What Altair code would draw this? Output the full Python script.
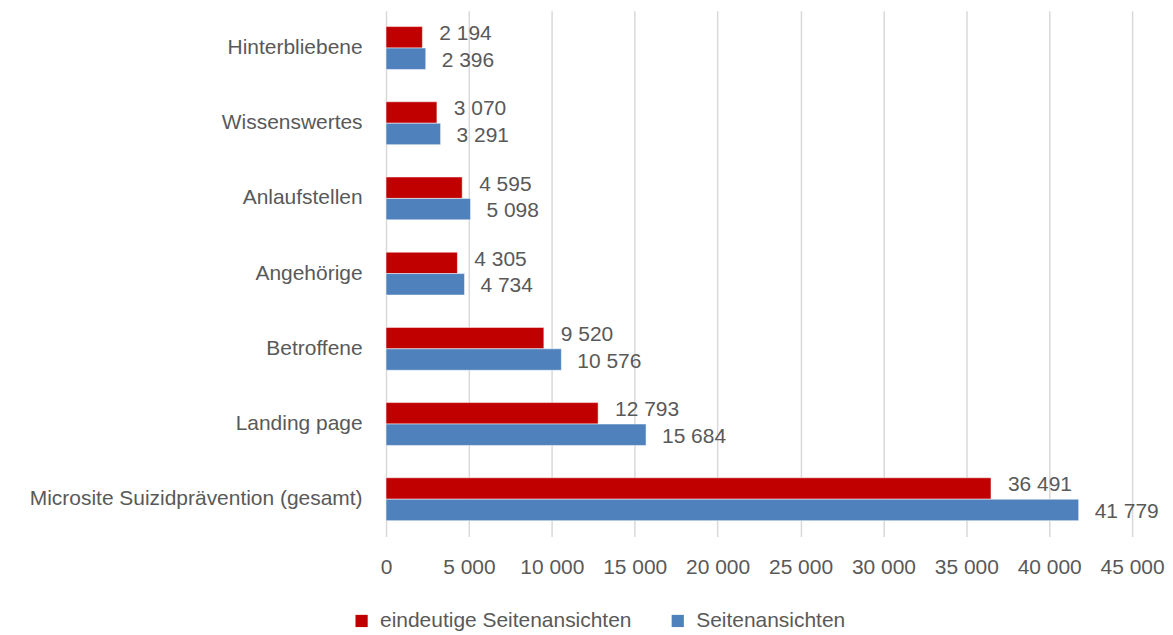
import altair as alt
import pandas as pd

categories = ["Hinterbliebene", "Wissenswertes", "Anlaufstellen", "Angehörige",
              "Betroffene", "Landing page", "Microsite Suizidprävention (gesamt)"]
eindeutige = [2194, 3070, 4595, 4305, 9520, 12793, 36491]
seiten = [2396, 3291, 5098, 4734, 10576, 15684, 41779]
series = ["eindeutige Seitenansichten", "Seitenansichten"]
colors = ["#C00000", "#4F81BD"]
x_ticks = list(range(0, 45001, 5000))

rows = []
for c, a, b in zip(categories, eindeutige, seiten):
    rows.append({"cat": c, "series": series[0], "value": a})
    rows.append({"cat": c, "series": series[1], "value": b})
df = pd.DataFrame(rows)

font = "Liberation Sans"
txt = "#595959"
fmt = "replace(format(datum.value, ','), ',', ' ')"

base = alt.Chart(df).transform_calculate(
    label="replace(format(datum.value, ','), ',', ' ')"
).encode(
    y=alt.Y("cat:N", sort=categories, title=None,
            scale=alt.Scale(paddingInner=0.43, paddingOuter=0.21),
            axis=alt.Axis(ticks=False, domain=False, labelFontSize=21, labelColor=txt,
                          labelFont=font, labelPadding=24, labelLimit=500)),
    yOffset=alt.YOffset("series:N", sort=series, scale=alt.Scale(paddingInner=0, paddingOuter=0)),
)

bars = base.mark_bar(stroke="white", strokeWidth=0.5).encode(
    x=alt.X("value:Q", title=None,
            scale=alt.Scale(domain=[0, 45000], nice=False),
            axis=alt.Axis(values=x_ticks, grid=True, gridColor="#d9d9d9",
                          gridWidth=1.5, domain=False, ticks=False, labelFontSize=21,
                          labelColor=txt, labelFont=font, labelPadding=20, labelExpr=fmt,
                          labelOverlap=False, labelBound=False, labelFlush=False)),
    color=alt.Color("series:N", sort=series,
                    scale=alt.Scale(domain=series, range=colors),
                    legend=alt.Legend(orient="none", legendX=-35, legendY=601, direction="horizontal",
                                      title=None, symbolType="square",
                                      symbolSize=150, labelFontSize=21, labelColor=txt,
                                      labelFont=font, columnPadding=35, labelOffset=8,
                                      labelLimit=400, symbolStrokeWidth=0)),
)

labels_red = base.transform_filter(alt.datum.series == series[0]).mark_text(
    align="left", baseline="middle", dx=17, dy=-3, fontSize=21, font=font, color=txt
).encode(x="value:Q", text="label:N")

labels_blue = base.transform_filter(alt.datum.series == series[1]).mark_text(
    align="left", baseline="middle", dx=16, dy=2, fontSize=21, font=font, color=txt
).encode(x="value:Q", text="label:N")

chart = (bars + labels_red + labels_blue).properties(
    width=748, height=527,
    padding={"left": 21, "top": 2, "right": 0, "bottom": 0},
).configure_view(stroke=None)

chart.save("out.html", embed_options={"renderer": "svg", "actions": False})
